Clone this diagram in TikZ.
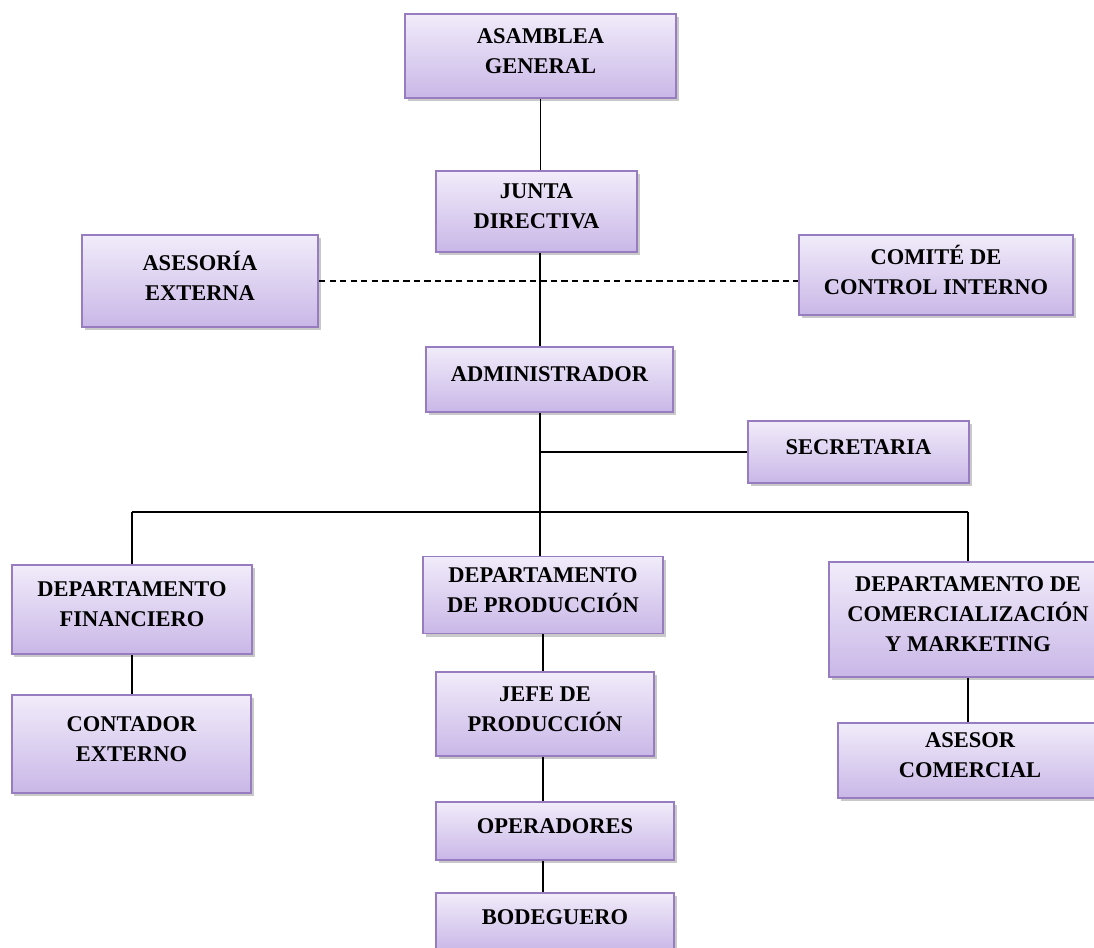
\documentclass[tikz,border=0pt]{standalone}
\usepackage{fontspec}
\setmainfont{Liberation Serif}
\usetikzlibrary{shadows}

\definecolor{boxtop}{RGB}{241,236,250}
\definecolor{boxbottom}{RGB}{201,183,231}
\definecolor{boxline}{RGB}{152,124,192}

\tikzset{
    cargo/.style={draw=boxline, line width=1.1pt, top color=boxtop, bottom color=boxbottom,
        align=center, font=\bfseries\fontsize{12.8}{17}\selectfont, text depth=6pt,
        drop shadow={shadow xshift=0.05cm, shadow yshift=-0.06cm, opacity=0.3, fill=black!70}},
    dims/.style 2 args={minimum width=#1*0.02cm, minimum height=#2*0.02cm, inner sep=0pt},
    linea/.style={line width=1.1pt, black}
}

\begin{document}
\begin{tikzpicture}[x=0.02cm, y=-0.02cm]
        \useasboundingbox (0,0) rectangle (1094,947);

        % upper levels
        \node[cargo, dims={271}{84}] (asamblea) at (540.5,56) {ASAMBLEA\\GENERAL};
        \node[cargo, dims={201}{81}] (junta) at (536.5,211.5) {JUNTA\\DIRECTIVA};
        \node[cargo, dims={236}{92}] (asesoria) at (200,281) {ASESORÍA\\EXTERNA};
        \node[cargo, dims={274}{80}] (comite) at (936,275) {COMITÉ DE\\CONTROL INTERNO};
        \node[cargo, dims={247}{65}] (admin) at (549.5,379.5) {ADMINISTRADOR};
        \node[cargo, dims={221}{62}] (secretaria) at (858.5,452) {SECRETARIA};

        % departments
        \node[cargo, dims={240}{89}] (dfin) at (132,609.5) {DEPARTAMENTO\\FINANCIERO};
        \node[cargo, dims={240}{77}] (dprod) at (543,595) {DEPARTAMENTO\\DE PRODUCCIÓN};
        \node[cargo, dims={278}{115}] (dcom) at (968,619.5) {DEPARTAMENTO DE\\COMERCIALIZACIÓN\\Y MARKETING};

        % staff under each department
        \node[cargo, dims={239}{98}] (contador) at (131.5,744) {CONTADOR\\EXTERNO};
        \node[cargo, dims={218}{84}] (jefe) at (545,714) {JEFE DE\\PRODUCCIÓN};
        \node[cargo, dims={264}{75}] (asesor) at (970,760.5) {ASESOR\\COMERCIAL};
        \node[cargo, dims={238}{58}] (operadores) at (555,831) {OPERADORES};
        \node[cargo, dims={238}{58}] (bodeguero) at (555,922) {BODEGUERO};

        % guide lines
        \coordinate (eje) at (540,0);
        \coordinate (prod) at (543,0);
        \coordinate (barra) at (0,512);

        % main line
        \draw[linea] (asamblea.south) -- (asamblea.south |- junta.north);
        \draw[linea] (eje |- junta.south) -- (eje |- admin.north);
        \draw[linea, dash pattern=on 3.6pt off 2.4pt] (asesoria.east) -- (asesoria.east -| comite.west);
        \draw[linea] (eje |- admin.south) -- (eje |- dprod.north);
        \draw[linea] (eje |- secretaria.west) -- (secretaria.west);

        % bar to the departments
        \draw[linea] (dfin.north |- barra) -- (dcom.north |- barra);
        \draw[linea] (dfin.north |- barra) -- (dfin.north);
        \draw[linea] (dcom.north |- barra) -- (dcom.north);

        % lower lines
        \draw[linea] (dfin.south) -- (dfin.south |- contador.north);
        \draw[linea] (prod |- dprod.south) -- (prod |- jefe.north);
        \draw[linea] (prod |- jefe.south) -- (prod |- operadores.north);
        \draw[linea] (prod |- operadores.south) -- (prod |- bodeguero.north);
        \draw[linea] (dcom.south) -- (dcom.south |- asesor.north);
    \end{tikzpicture}
\end{document}
